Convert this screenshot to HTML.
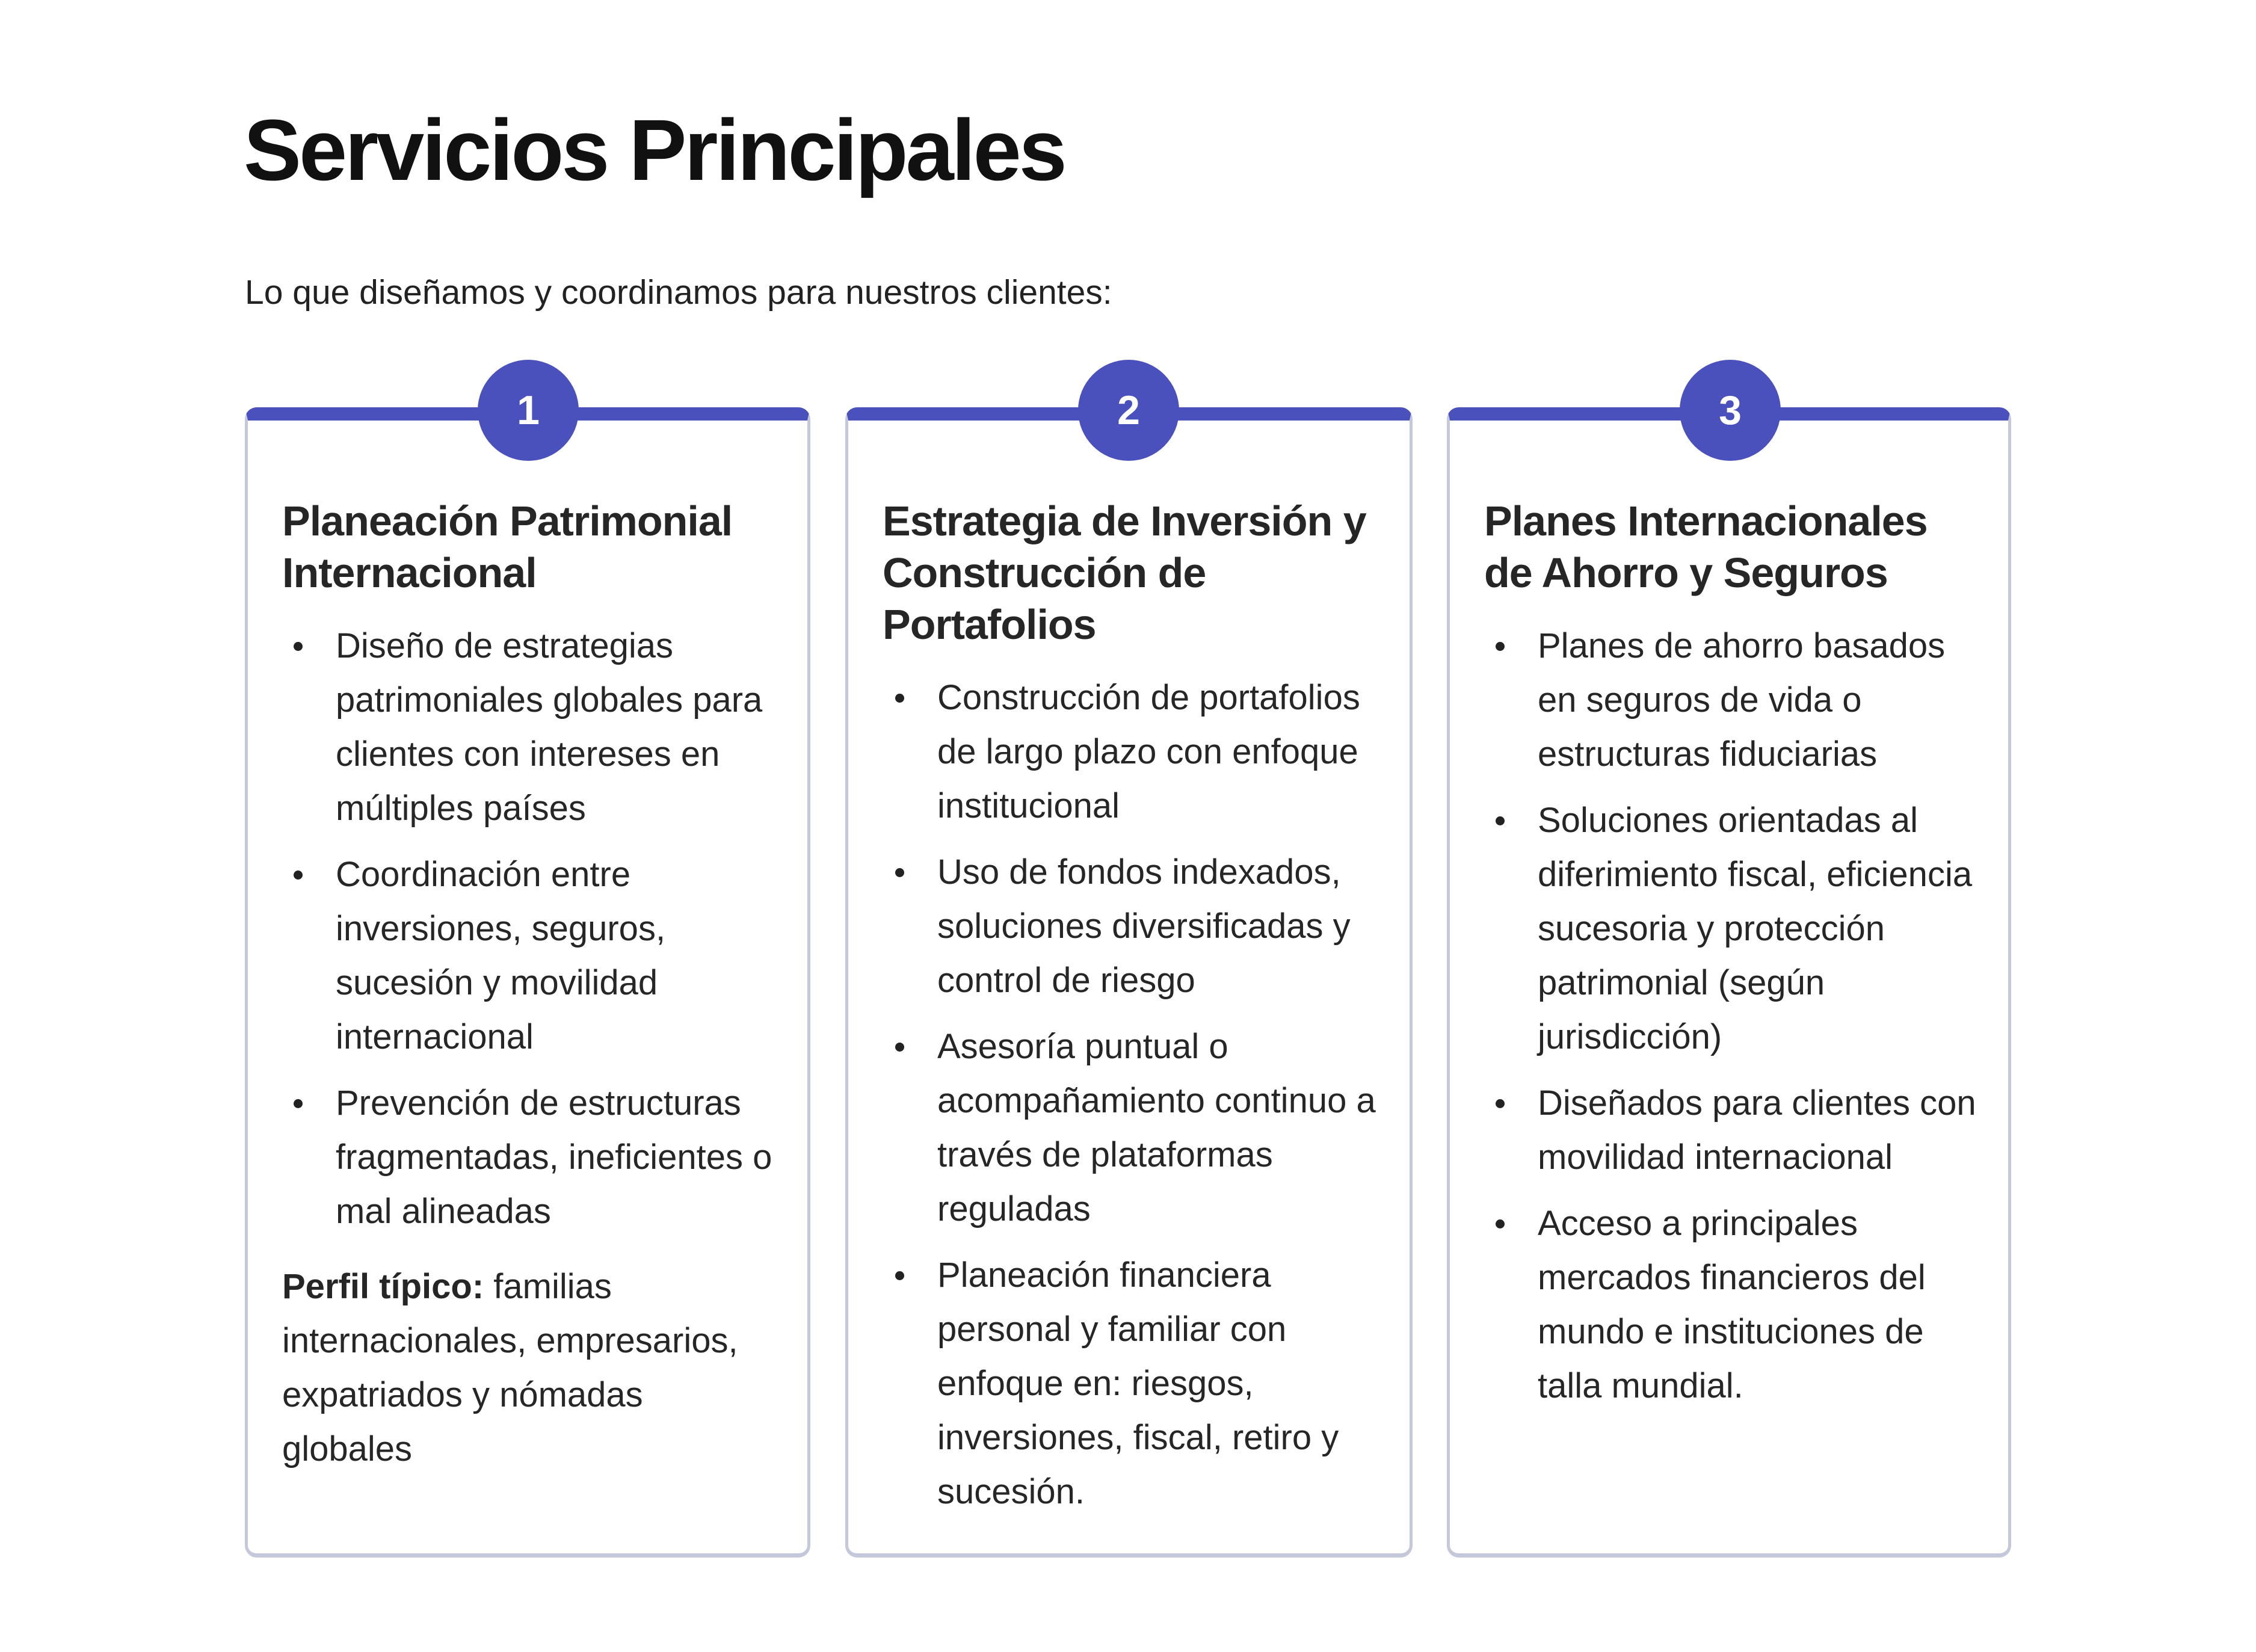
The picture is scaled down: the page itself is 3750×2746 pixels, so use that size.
<!DOCTYPE html>
<html><head><meta charset="utf-8">
<style>
*{margin:0;padding:0;box-sizing:border-box}
body{width:3750px;height:2746px;background:#fff;position:relative;overflow:hidden;font-family:"Liberation Sans",Arial,sans-serif;color:#222}
.title{position:absolute;left:405px;top:160px;font-size:144px;font-weight:bold;color:#111;letter-spacing:-4px;line-height:180px;white-space:nowrap}
.sub{position:absolute;left:407px;top:453px;font-size:57px;line-height:66px;color:#222;white-space:nowrap}
.card{position:absolute;top:677px;height:1912px;border:5px solid #c5c7db;border-bottom-width:7px;border-top:22px solid #4a51bd;border-radius:20px;background:#fff}
.num{position:absolute;top:598px;width:168px;height:168px;border-radius:50%;background:#4a51bd;color:#fff;font-weight:bold;font-size:68px;line-height:168px;text-align:center}
.h{position:absolute;top:823px;font-weight:bold;font-size:70px;line-height:86px;color:#262626;white-space:nowrap;letter-spacing:-1px}
.list{position:absolute;white-space:nowrap}
.l{height:90px;line-height:90px;font-size:58px;color:#262626}
.it{position:relative;margin-top:20px}
.it:first-child{margin-top:0}
.it::before{content:"";position:absolute;left:-70px;top:38px;width:15px;height:15px;border-radius:50%;background:#222}
.p{margin-top:35px;margin-left:-89px}
</style></head><body>
<div class="title">Servicios Principales</div>
<div class="sub">Lo que diseñamos y coordinamos para nuestros clientes:</div>

<div class="card" style="left:407px;width:940px"></div>
<div class="card" style="left:1405px;width:943px"></div>
<div class="card" style="left:2405px;width:938px"></div>
<div class="num" style="left:794px">1</div>
<div class="num" style="left:1792px">2</div>
<div class="num" style="left:2792px">3</div>

<div class="h" style="left:469px">Planeación Patrimonial<br>Internacional</div>
<div class="list" style="left:558px;top:1029px">
<div class="it"><div class="l">Diseño de estrategias</div><div class="l">patrimoniales globales para</div><div class="l">clientes con intereses en</div><div class="l">múltiples países</div></div>
<div class="it"><div class="l">Coordinación entre</div><div class="l">inversiones, seguros,</div><div class="l">sucesión y movilidad</div><div class="l">internacional</div></div>
<div class="it"><div class="l">Prevención de estructuras</div><div class="l">fragmentadas, ineficientes o</div><div class="l">mal alineadas</div></div>
<div class="p"><div class="l"><b>Perfil típico:</b> familias</div><div class="l">internacionales, empresarios,</div><div class="l">expatriados y nómadas</div><div class="l">globales</div></div>
</div>

<div class="h" style="left:1467px">Estrategia de Inversión y<br>Construcción de<br>Portafolios</div>
<div class="list" style="left:1558px;top:1115px">
<div class="it"><div class="l">Construcción de portafolios</div><div class="l">de largo plazo con enfoque</div><div class="l">institucional</div></div>
<div class="it"><div class="l">Uso de fondos indexados,</div><div class="l">soluciones diversificadas y</div><div class="l">control de riesgo</div></div>
<div class="it"><div class="l">Asesoría puntual o</div><div class="l">acompañamiento continuo a</div><div class="l">través de plataformas</div><div class="l">reguladas</div></div>
<div class="it"><div class="l">Planeación financiera</div><div class="l">personal y familiar con</div><div class="l">enfoque en: riesgos,</div><div class="l">inversiones, fiscal, retiro y</div><div class="l">sucesión.</div></div>
</div>

<div class="h" style="left:2467px">Planes Internacionales<br>de Ahorro y Seguros</div>
<div class="list" style="left:2556px;top:1029px">
<div class="it"><div class="l">Planes de ahorro basados</div><div class="l">en seguros de vida o</div><div class="l">estructuras fiduciarias</div></div>
<div class="it"><div class="l">Soluciones orientadas al</div><div class="l">diferimiento fiscal, eficiencia</div><div class="l">sucesoria y protección</div><div class="l">patrimonial (según</div><div class="l">jurisdicción)</div></div>
<div class="it"><div class="l">Diseñados para clientes con</div><div class="l">movilidad internacional</div></div>
<div class="it"><div class="l">Acceso a principales</div><div class="l">mercados financieros del</div><div class="l">mundo e instituciones de</div><div class="l">talla mundial.</div></div>
</div>
</body></html>
